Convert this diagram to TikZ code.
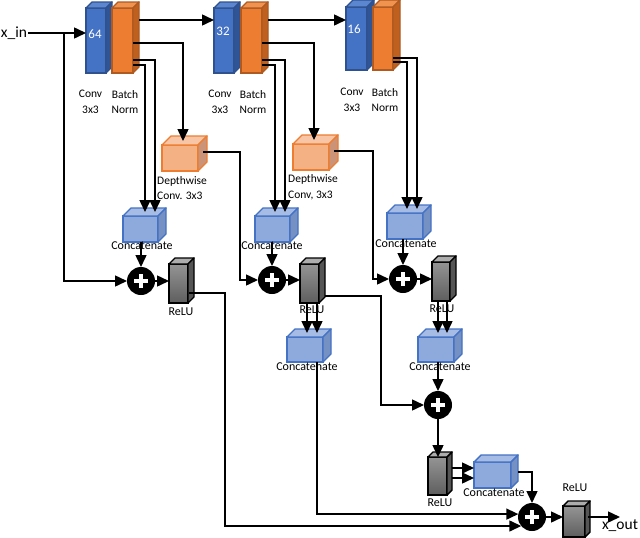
\documentclass[tikz,border=0pt]{standalone}
\usepackage{fontspec}
\setmainfont{Carlito}
\usetikzlibrary{arrows.meta,calc}
\definecolor{convfill}{HTML}{4472C4}
\definecolor{convtopc}{HTML}{5B86D0}
\definecolor{convside}{HTML}{2F5597}
\definecolor{convedge}{HTML}{2F528F}
\definecolor{bnfill}{HTML}{ED7D31}
\definecolor{bntopc}{HTML}{F0934F}
\definecolor{bnside}{HTML}{C0601F}
\definecolor{bnedge}{HTML}{AE5A21}
\definecolor{dwfill}{HTML}{F4B183}
\definecolor{dwtopc}{HTML}{F8C6A6}
\definecolor{dwside}{HTML}{CB9378}
\definecolor{dwedge}{HTML}{ED7D31}
\definecolor{catfill}{HTML}{8EA9DB}
\definecolor{cattopc}{HTML}{A6BCE5}
\definecolor{catside}{HTML}{7590C2}
\definecolor{catedge}{HTML}{4472C4}
\definecolor{relutop}{HTML}{949494}
\definecolor{relubot}{HTML}{5E5E5E}
\definecolor{relutopc}{HTML}{ADADAD}
\definecolor{reluside}{HTML}{555555}
\newcommand\mycube[7]{%
  \node[#7 front, minimum width=#4pt, minimum height=#5pt] (#1) at (#2,#3) {};
  \filldraw[#7 top] (#1.north west) -- ++(#6,-#6) -- ++(#4,0) -- (#1.north east) -- cycle;
  \filldraw[#7 side] (#1.north east) -- ++(#6,-#6) -- ++(0,#5) -- (#1.south east) -- cycle;
}
\tikzset{
  cubefront/.style={draw, anchor=north west, inner sep=0pt, outer sep=0pt, line width=1.4pt},
  cubeface/.style={line width=1.4pt, line join=round},
  conv front/.style={cubefront, fill=convfill, draw=convedge},
  conv top/.style={cubeface, fill=convtopc, draw=convedge},
  conv side/.style={cubeface, fill=convside, draw=convedge},
  bn front/.style={cubefront, fill=bnfill, draw=bnedge},
  bn top/.style={cubeface, fill=bntopc, draw=bnedge},
  bn side/.style={cubeface, fill=bnside, draw=bnedge},
  dw front/.style={cubefront, fill=dwfill, draw=dwedge},
  dw top/.style={cubeface, fill=dwtopc, draw=dwedge},
  dw side/.style={cubeface, fill=dwside, draw=dwedge},
  cat front/.style={cubefront, fill=catfill, draw=catedge},
  cat top/.style={cubeface, fill=cattopc, draw=catedge},
  cat side/.style={cubeface, fill=catside, draw=catedge},
  relu front/.style={cubefront, top color=relutop, bottom color=relubot, draw=black},
  relu top/.style={cubeface, fill=relutopc, draw=black},
  relu side/.style={cubeface, fill=reluside, draw=black},
  plusnode/.style={circle, fill=black, minimum size=28pt, inner sep=0pt, outer sep=0pt,
    path picture={
      \draw[white, line width=4pt] ([xshift=-7pt]path picture bounding box.center) -- ([xshift=7pt]path picture bounding box.center);
      \draw[white, line width=4pt] ([yshift=-7pt]path picture bounding box.center) -- ([yshift=7pt]path picture bounding box.center);
    }},
  lbl/.style={font=\fontsize{11.5}{15.5}\selectfont, align=center, inner sep=0pt},
  catlbl/.style={font=\fontsize{12}{14}\selectfont, inner sep=0pt},
  numlbl/.style={font=\fontsize{13}{15}\selectfont, text=white, inner sep=0pt},
  iolbl/.style={font=\fontsize{15.5}{18}\selectfont, inner sep=1pt},
  conn/.style={line width=1.5pt, -{Triangle[length=12pt,width=11pt]}}
}
\begin{document}
\begin{tikzpicture}[x=1pt,y=-1pt]
\useasboundingbox (0,0) rectangle (640,538);
% ---- conv / bn blocks
\mycube{conv1}{86}{8}{20}{65}{6}{conv}
\mycube{bn1}{112}{8}{21}{65}{6}{bn}
\mycube{conv2}{214}{8}{20}{65}{6}{conv}
\mycube{bn2}{241}{8}{21}{65}{6}{bn}
\mycube{conv3}{346}{7}{21}{63}{7}{conv}
\mycube{bn3}{373}{7}{20}{63}{7}{bn}
\node[numlbl] (n64) at (95,34) {64};
\node[numlbl] (n32) at (223,31) {32};
\node[numlbl] (n16) at (354,29) {16};
\node[lbl] (lc1) at (90.5,102) {Conv\\3x3};
\node[lbl] (lb1) at (125,102) {Batch\\Norm};
\node[lbl] (lc2) at (220,102) {Conv\\3x3};
\node[lbl] (lb2) at (253,102) {Batch\\Norm};
\node[lbl] (lc3) at (352,100) {Conv\\3x3};
\node[lbl] (lb3) at (385,100) {Batch\\Norm};
% ---- depthwise
\mycube{dw1}{162}{145}{36}{26}{9}{dw}
\mycube{dw2}{293}{144}{36}{26}{9}{dw}
\node[lbl, align=left, anchor=west] (ld1) at (157,188) {Depthwise\\Conv. 3x3};
\node[lbl, align=left, anchor=west] (ld2) at (288,187) {Depthwise\\Conv, 3x3};
% ---- concatenates
\mycube{cat1}{123}{216}{35}{26}{8}{cat}
\mycube{cat2}{255}{216}{35}{26}{8}{cat}
\mycube{cat3}{387}{213}{36}{26}{8}{cat}
\mycube{cat4}{287}{337}{36}{25}{8}{cat}
\mycube{cat5}{418}{337}{36}{25}{8}{cat}
\mycube{cat6}{474}{462}{37}{26}{7}{cat}
% ---- relus
\mycube{relu1}{169}{264}{19}{39}{6}{relu}
\mycube{relu2}{300}{264}{19}{39}{6}{relu}
\mycube{relu3}{432}{262}{18}{39}{6}{relu}
\mycube{relu4}{428}{457}{19}{38}{5}{relu}
\mycube{relu5}{563}{506}{22}{31}{5}{relu}
% ---- plus
\node[plusnode] (plus1) at (141,281) {};
\node[plusnode] (plus2) at (272,280) {};
\node[plusnode] (plus3) at (403,279) {};
\node[plusnode] (plus4) at (438,405) {};
\node[plusnode] (plus5) at (532,517) {};
% ---- io
\node[iolbl] (xin) at (14,33) {x\_in};
\node[iolbl] (xout) at (620,526) {x\_out};
% ---- helper coordinates
\path ($(bn1.north east)+(6,12)$) coordinate (b1a)
      ($(bn1.north east)+(0,35)$) coordinate (b1b)
      ($(bn1.north east)+(0,52)$) coordinate (b1c)
      ($(bn1.north east)+(0,57)$) coordinate (b1d)
      ($(bn2.north east)+(6,12)$) coordinate (b2a)
      ($(bn2.north east)+(0,35)$) coordinate (b2b)
      ($(bn2.north east)+(0,52)$) coordinate (b2c)
      ($(bn2.north east)+(0,57)$) coordinate (b2d)
      ($(bn3.north east)+(0,51)$) coordinate (b3c)
      ($(bn3.north east)+(0,55)$) coordinate (b3d)
      ($(dw1.north east)+(5,7)$) coordinate (d1o)
      ($(dw2.north east)+(5,7)$) coordinate (d2o)
      ($(relu1.north east)+(1,29)$) coordinate (r1o)
      ($(relu2.north east)+(6,32)$) coordinate (r2o)
      ($(cat4.north)+(2,-4)$) coordinate (c4a)
      ($(cat4.north)+(12,-4)$) coordinate (c4b)
      ($(cat5.north)+(2,-4)$) coordinate (c5a)
      ($(cat5.north)+(11,-4)$) coordinate (c5b)
      ($(relu4.north east)+(5,11)$) coordinate (r4a)
      ($(relu4.north east)+(5,21)$) coordinate (r4b)
      ($(cat6.north east)+(7,10)$) coordinate (c6o)
      ($(cat4.south)+(12,0)$) coordinate (c4o)
      ($(relu5.north east)+(3,11)$) coordinate (r5o)
      (xin.east -| 64,0) coordinate (split);
% ---- connectors
\draw[conn] (xin.east) -- (xin.east -| conv1.west);
\draw[conn] (split) |- (plus1.west);
\draw[conn] (b1a) -- (b1a -| conv2.west);
\draw[conn] (b2a) -- (b2a -| conv3.west);
\draw[conn] (b1b) -| ($(dw1.north)+(3,-4)$);
\draw[conn] (b1c) -| ($(cat1.north)+(14.5,-4)$);
\draw[conn] (b1d) -| ($(cat1.north)+(4.5,-4)$);
\draw[conn] (b2b) -| ($(dw2.north)+(3,-4)$);
\draw[conn] (b2c) -| ($(cat2.north)+(12.5,-4)$);
\draw[conn] (b2d) -| ($(cat2.north)+(2.5,-4)$);
\draw[conn] (b3c) -| ($(cat3.north)+(12,-4)$);
\draw[conn] (b3d) -| ($(cat3.north)+(2,-4)$);
\draw[conn] (d1o) -- ++(37,0) |- (plus2.west);
\draw[conn] (d2o) -- ++(39,0) |- (plus3.west);
\draw[conn] (plus1.north |- cat1.south) -- (plus1.north);
\draw[conn] (plus2.north |- cat2.south) -- (plus2.north);
\draw[conn] (plus3.north |- cat3.south) -- (plus3.north);
\draw[conn] (plus1.east) -- (plus1.east -| relu1.west);
\draw[conn] (plus2.east) -- (plus2.east -| relu2.west);
\draw[conn] (plus3.east) -- (plus3.east -| relu3.west);
\draw[conn] (r1o) -- ++(36,0) |- (plus5.220);
\draw[conn] (r2o) -- ++(56,0) |- (plus4.west);
\draw[conn] (c4a |- relu2.south) -- (c4a);
\draw[conn] (c4b |- relu2.south) -- (c4b);
\draw[conn] (c5a |- relu3.south) -- (c5a);
\draw[conn] (c5b |- relu3.south) -- (c5b);
\draw[conn] (plus4.north |- cat5.south) -- (plus4.north);
\draw[conn] (plus4.south) -- (plus4.south |- relu4.north);
\draw[conn] (r4a) -- (r4a -| cat6.west);
\draw[conn] (r4b) -- (r4b -| cat6.west);
\draw[conn] (c6o) -| (plus5.north);
\draw[conn] (c4o) |- (plus5.168);
\draw[conn] (plus5.east) -- (plus5.east -| relu5.west);
\draw[conn] (r5o) -- (r5o -| xout.north);
% ---- labels (on top of lines)
\node[catlbl] (lcat1) at (142,246) {Concatenate};
\node[catlbl] (lcat2) at (272,246) {Concatenate};
\node[catlbl] (lcat3) at (406,244) {Concatenate};
\node[catlbl] (lcat4) at (307,367) {Concatenate};
\node[catlbl] (lcat5) at (440,367) {Concatenate};
\node[catlbl] (lcat6) at (494,493) {Concatenate};
\node[catlbl] (lr1) at (181,312) {ReLU};
\node[catlbl] (lr2) at (312,310) {ReLU};
\node[catlbl] (lr3) at (442,309) {ReLU};
\node[catlbl] (lr4) at (440,503) {ReLU};
\node[catlbl] (lr5) at (575,488) {ReLU};
\end{tikzpicture}
\end{document}
